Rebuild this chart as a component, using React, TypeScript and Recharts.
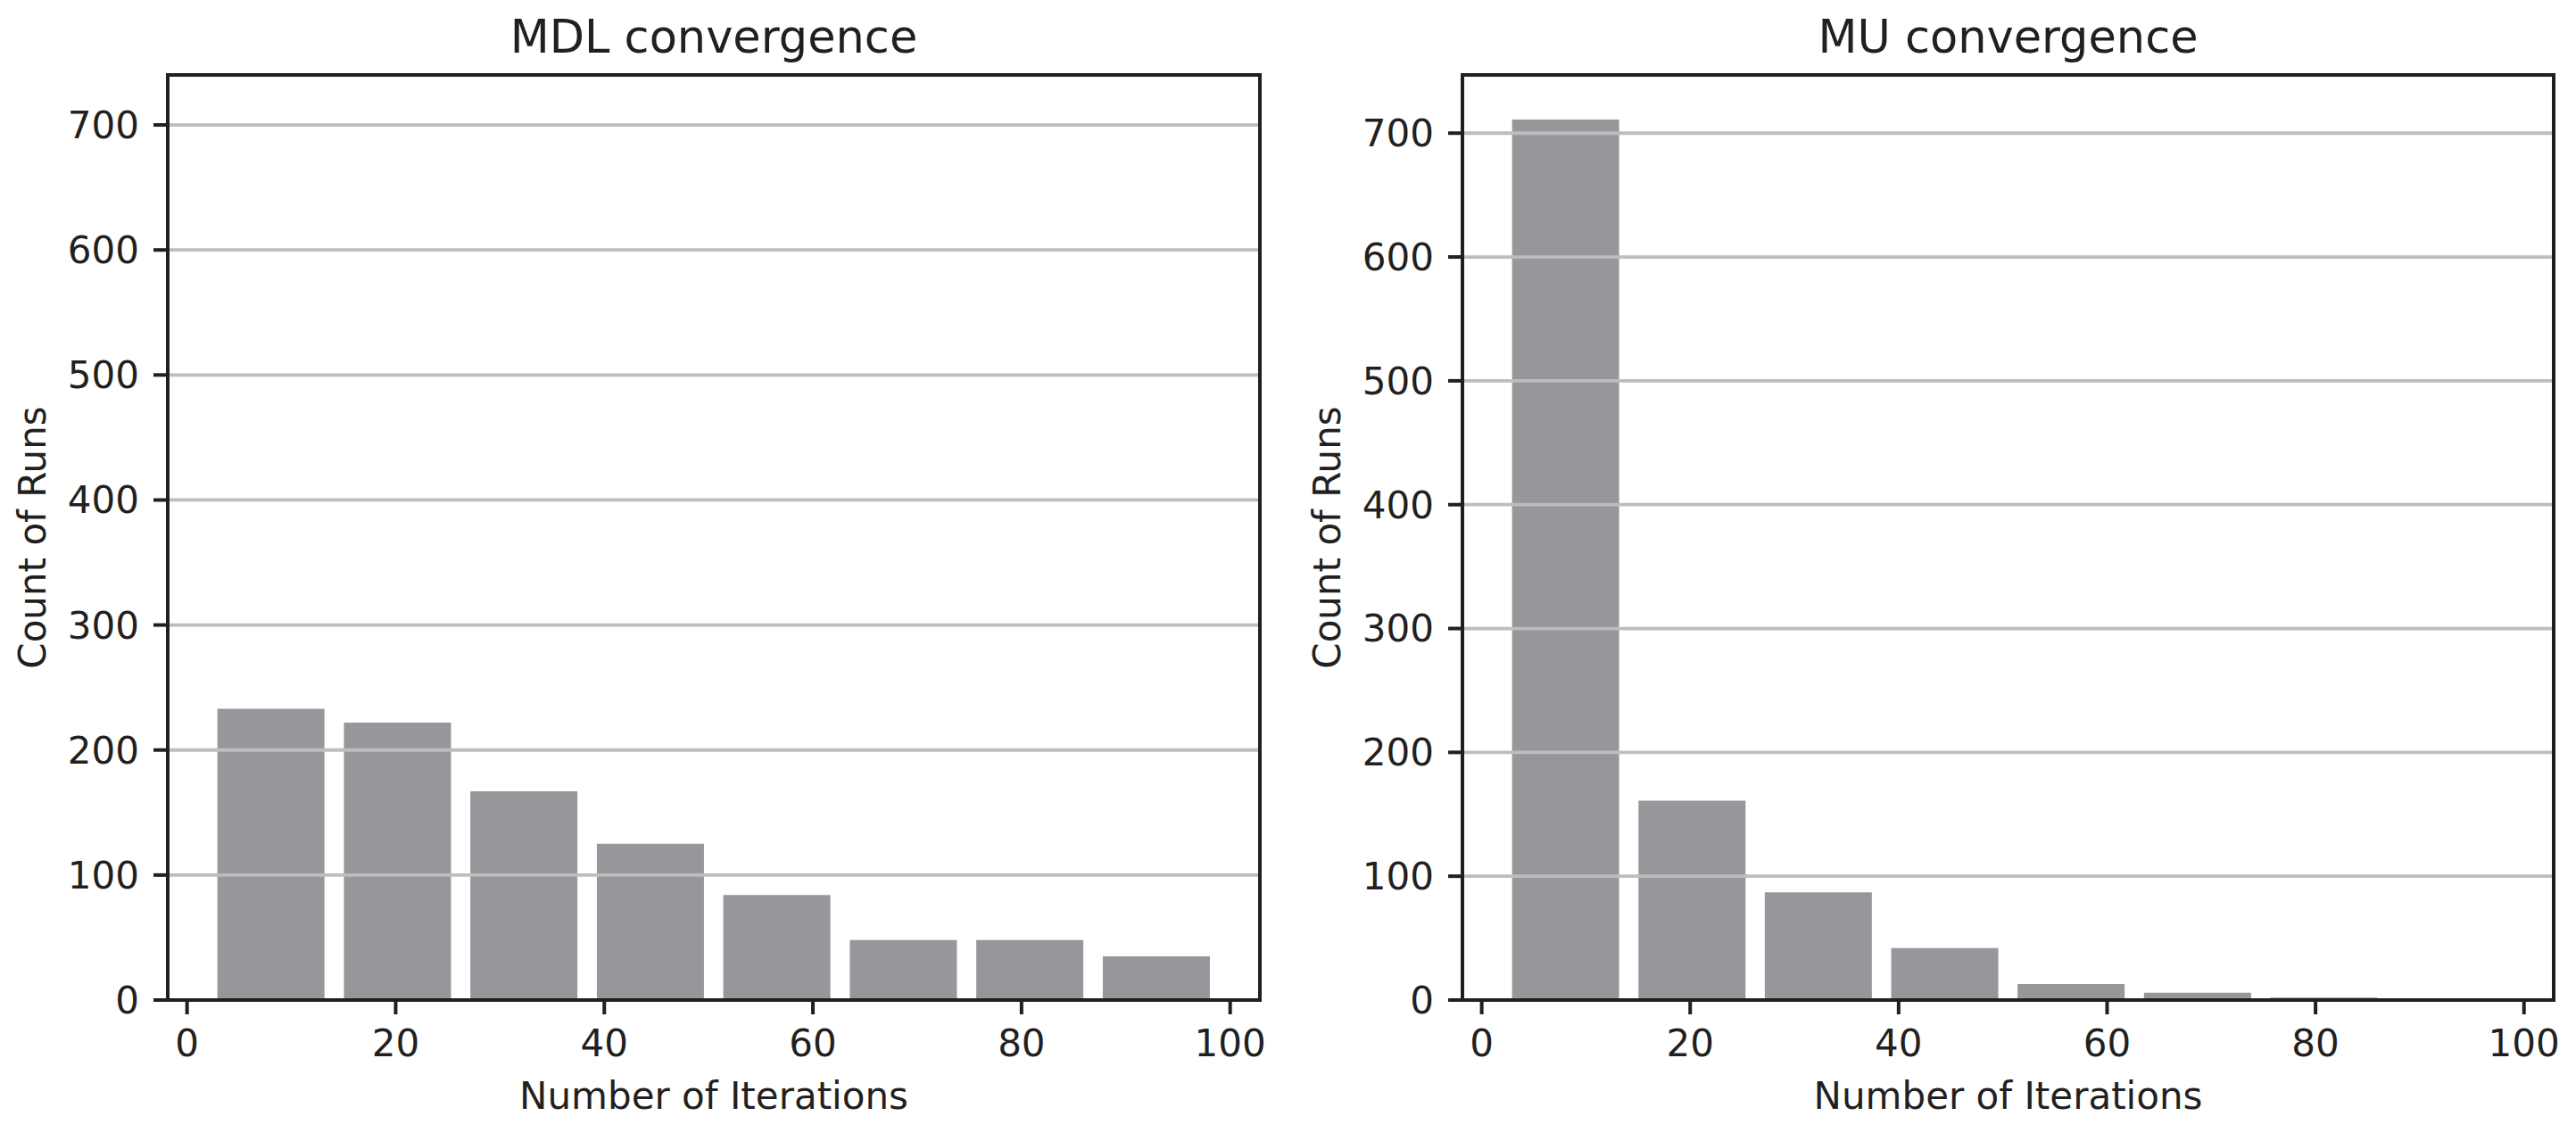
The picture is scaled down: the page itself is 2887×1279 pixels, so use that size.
import React from "react";
import { BarChart, Bar, XAxis, YAxis, ReferenceLine } from "recharts";

// histogram bins (centres of the 8 bins, width ~12.1 iterations)
const binCenters = [8.06, 20.19, 32.31, 44.44, 56.56, 68.69, 80.81, 92.94];
const mdlCounts = [233, 222, 167, 125, 84, 48, 48, 35];
const muCounts = [711, 161, 87, 42, 13, 6, 2, 0];

const xTicks = [0, 20, 40, 60, 80, 100];
const yTicks = [0, 100, 200, 300, 400, 500, 600, 700];
const gridLevels = [100, 200, 300, 400, 500, 600, 700];

const FONT = "'DejaVu Sans', 'Liberation Sans', sans-serif";
const INK = "#231f20";
const BAR = "#96979b";
const GRID = "#bdbdbd";

const lineStyle = { stroke: INK, strokeWidth: 4, strokeLinecap: "square" as const };

function Panel({ title, counts, yMax, left, width, leftAxis, rightAxis }: {
  title: string; counts: number[]; yMax: number; left: number; width: number; leftAxis: number; rightAxis: number;
}) {
  const data = binCenters.map((bin, i) => ({ bin, count: counts[i] }));
  const height = 1279;
  const plotTop = 84;
  const plotBottom = 1121;

  return (
    <div style={{ position: "absolute", left, top: 0 }}>
      <BarChart width={width} height={height} data={data} margin={{ top: 0, right: 0, bottom: 0, left: 0 }} barCategoryGap="7.5%">
        <XAxis
          xAxisId="top"
          orientation="top"
          type="number"
          domain={[-1.85, 102.85]}
          allowDataOverflow
          height={plotTop}
          tick={false}
          tickLine={false}
          axisLine={lineStyle}
          label={{
            value: title,
            content: ({ viewBox }: any) => (
              <text x={viewBox.x + viewBox.width / 2} y={viewBox.y + viewBox.height - 25} textAnchor="middle"
                fontSize={51} fontFamily={FONT} fill={INK}>{title}</text>
            ),
          }}
        />
        <XAxis
          xAxisId="bottom"
          dataKey="bin"
          type="number"
          domain={[-1.85, 102.85]}
          allowDataOverflow
          ticks={xTicks}
          interval={0}
          height={height - plotBottom}
          tickSize={16}
          tickMargin={17}
          tickLine={{ stroke: INK, strokeWidth: 4 }}
          axisLine={lineStyle}
          tick={{ fontSize: 42, fill: INK, fontFamily: FONT }}
          label={{
            value: "Number of Iterations",
            content: ({ viewBox }: any) => (
              <text x={viewBox.x + viewBox.width / 2} y={viewBox.y + 122} textAnchor="middle"
                fontSize={42} fontFamily={FONT} fill={INK}>Number of Iterations</text>
            ),
          }}
        />
        <YAxis
          yAxisId="left"
          type="number"
          domain={[0, yMax]}
          allowDataOverflow
          ticks={yTicks}
          interval={0}
          width={leftAxis}
          tickSize={16}
          tickMargin={16}
          tickLine={{ stroke: INK, strokeWidth: 4 }}
          axisLine={lineStyle}
          tick={{ fontSize: 42, fill: INK, fontFamily: FONT }}
          label={{
            value: "Count of Runs",
            content: ({ viewBox }: any) => {
              const x = viewBox.x + viewBox.width - 137;
              const y = viewBox.y + viewBox.height / 2;
              return (
                <text x={x} y={y} transform={`rotate(-90, ${x}, ${y})`} textAnchor="middle"
                  fontSize={42} fontFamily={FONT} fill={INK}>Count of Runs</text>
              );
            },
          }}
        />
        <YAxis
          yAxisId="right"
          orientation="right"
          type="number"
          domain={[0, yMax]}
          allowDataOverflow
          width={rightAxis}
          tick={false}
          tickLine={false}
          axisLine={lineStyle}
        />
        <Bar dataKey="count" xAxisId="bottom" yAxisId="left" fill={BAR} isAnimationActive={false} />
        {gridLevels.map((v) => (
          <ReferenceLine key={v} y={v} xAxisId="bottom" yAxisId="left" stroke={GRID} strokeWidth={3.8} />
        ))}
      </BarChart>
    </div>
  );
}

export default function App() {
  return (
    <div style={{ position: "absolute", left: 0, top: 0, width: 2887, height: 1279, background: "#fff" }}>
      <Panel title="MDL convergence" counts={mdlCounts} yMax={740} left={0} width={1450} leftAxis={188} rightAxis={38} />
      <Panel title="MU convergence" counts={muCounts} yMax={747} left={1450} width={1437} leftAxis={189} rightAxis={25} />
    </div>
  );
}
